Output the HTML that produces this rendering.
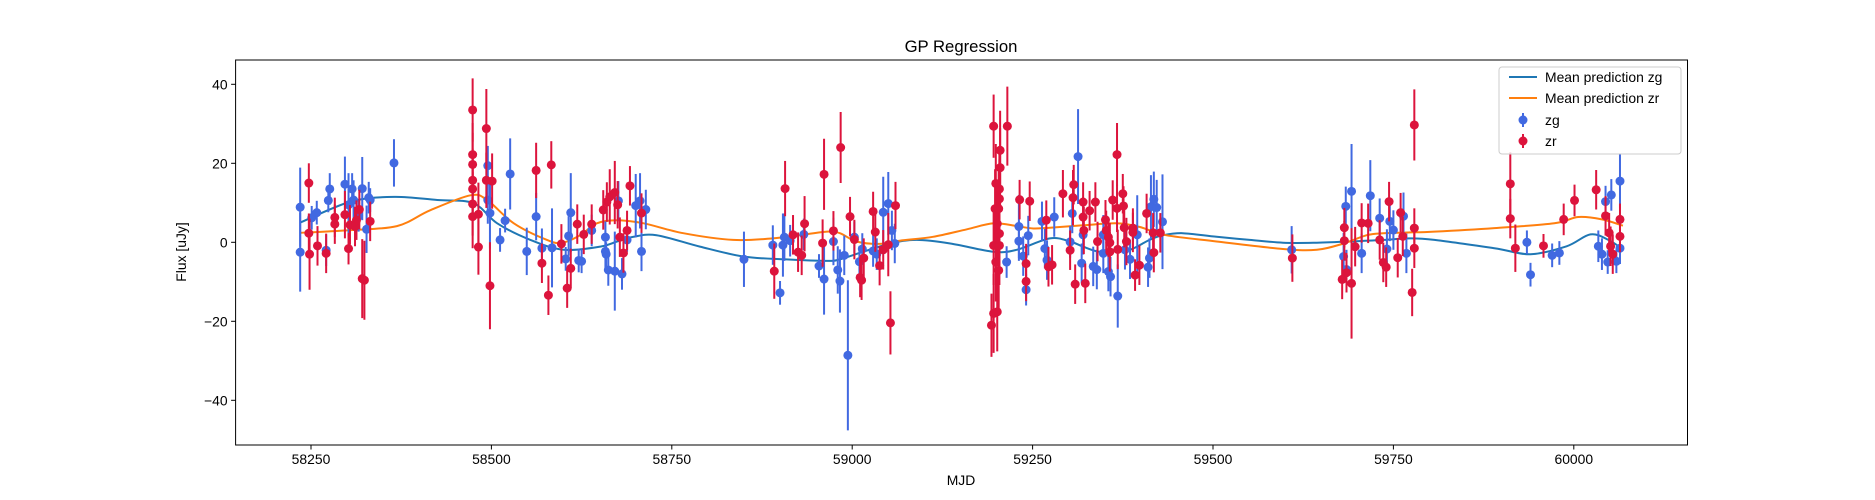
<!DOCTYPE html>
<html><head><meta charset="utf-8"><style>
html,body{margin:0;padding:0;background:#fff;}
svg{display:block;font-family:"Liberation Sans","DejaVu Sans",sans-serif;}
</style></head><body>
<svg id="chart" width="1875" height="500" viewBox="0 0 1875 500" xmlns="http://www.w3.org/2000/svg">
<rect width="1875" height="500" fill="#fff"/>
<text x="961" y="52" font-size="16.7" text-anchor="middle">GP Regression</text>
<g id="curves"></g><g id="pts"></g><g id="axes"></g>
<text x="961" y="485" font-size="13.9" text-anchor="middle">MJD</text>
<text x="0" y="0" font-size="13.9" text-anchor="middle" transform="translate(186,252) rotate(-90)">Flux [uJy]</text>
<g>
<rect x="1499" y="67" width="182" height="87" rx="3" fill="#fff" fill-opacity="0.8" stroke="#ccc"/>
<line x1="1509" y1="77" x2="1537" y2="77" stroke="#1f77b4" stroke-width="2"/>
<text x="1545" y="82" font-size="13.9">Mean prediction zg</text>
<line x1="1509" y1="98" x2="1537" y2="98" stroke="#ff7f0e" stroke-width="2"/>
<text x="1545" y="103" font-size="13.9">Mean prediction zr</text>
<line x1="1523" y1="113" x2="1523" y2="127" stroke="#4169e1" stroke-width="2"/><circle cx="1523" cy="120" r="4.5" fill="#4169e1"/>
<text x="1545" y="125" font-size="13.9">zg</text>
<line x1="1523" y1="134" x2="1523" y2="148" stroke="#dc143c" stroke-width="2"/><circle cx="1523" cy="141" r="4.5" fill="#dc143c"/>
<text x="1545" y="146" font-size="13.9">zr</text>
</g>
</svg>
<script>
const xTicks=[58250,58500,58750,59000,59250,59500,59750,60000];
const yTicks=[-40,-20,0,20,40];
const zgCurveMjd=[58235,58305,58365,58425,58475,58508,58554,58600,58651,58674,58697,58729,58789,58849,58905,58965,58983,59015,59053,59089,59136,59196,59228,59274,59302,59320,59343,59366,59385,59412,59431,59458,59505,59551,59597,59644,59690,59736,59773,59807,59890,59940,59990,60023,60048,60068];
const zgCurveVal=[5.0,10.3,11.5,10.7,9.9,4.8,0.6,-1.9,-1.1,0.2,1.4,1.8,-1.1,-3.6,-4.3,-4.7,-4.3,-2.4,-0.3,0.6,-0.3,-2.4,-1.9,1.0,0.2,-1.1,-2.4,-1.9,-1.9,0.6,1.8,2.3,1.4,0.6,-0.1,-0.1,0.2,0.6,1.0,0.6,-1.5,-3.0,-1.0,2.0,0.6,-1.8];
const zrCurveMjd=[58235,58305,58369,58415,58471,58494,58531,58577,58598,58623,58646,58674,58711,58766,58835,58890,58927,58965,58983,59006,59038,59066,59112,59159,59196,59228,59251,59274,59320,59366,59398,59435,59505,59597,59644,59681,59713,59736,59773,59807,59890,59973,60006,60039,60068];
const zrCurveVal=[2.4,3.1,4.1,8.1,11.9,10.7,4.8,0.6,-0.1,1.8,4.8,5.6,4.8,2.3,0.6,1.0,1.8,2.7,2.3,0.2,-0.4,0.4,1.4,3.3,4.8,4.1,3.5,3.7,4.3,4.8,3.9,1.8,0.2,-1.7,-1.9,-0.3,1.8,2.3,2.5,2.7,3.6,4.8,6.4,5.8,4.2];
const zgMjd=[58235,58235,58251,58258,58271,58274,58276,58297,58302,58307,58309,58321,58316,58327,58330,58332,58365,58495,58495,58498,58512,58519,58526,58549,58562,58570,58584,58603,58607,58610,58621,58625,58639,58658,58658,58659,58662,58671,58676,58681,58688,58700,58706,58708,58714,58850,58890,58900,58904,58906,58914,58933,58954,58961,58974,58980,58983,58989,58994,59003,59010,59014,59029,59034,59043,59050,59055,59059,59214,59231,59231,59237,59241,59244,59263,59267,59270,59280,59302,59305,59313,59318,59320,59334,59339,59348,59348,59355,59358,59368,59378,59385,59395,59410,59412,59414,59418,59422,59430,59609,59681,59684,59685,59692,59706,59718,59731,59741,59745,59750,59764,59768,59935,59940,59970,59980,60034,60039,60044,60052,60059,60064,60064,60047];
const zgFlux=[8.9,-2.5,6.2,7.5,-2,10.6,13.5,14.7,9.5,13.5,10.7,13.6,6.7,3.3,11.3,10.7,20.1,19.4,10.7,7.4,0.6,5.5,17.3,-2.3,6.5,-1.5,-1.4,-4.2,1.6,7.5,-4.6,-4.8,3,1.3,-2.3,-3,-7,-7.3,10.5,-8,0.6,9.3,10.5,-2.3,8.3,-4.3,-0.7,-12.8,-0.7,1.3,0.4,2,-6,-9.3,0.2,-7,-9.8,-3.3,-28.6,1.3,-4.9,-1.7,-2.2,-3,7.6,9.8,3,-0.3,-5,4,0.3,-3.5,-12,1.7,5.3,-1.6,-4.5,6.4,0.1,7.3,21.7,-5.3,1.9,-6.1,-6.9,1.9,-2.8,-7.4,-8.7,-13.6,-1.9,-4.3,1.9,-6.3,-4,9,10.9,8.8,5.2,-1.9,-3.6,9.1,-6.9,12.9,-2.8,11.8,6.1,-1.7,5.3,3.1,6.6,-2.8,0,-8.2,-3.3,-2.7,-1,-3,10.3,12,-4.8,-1.5,15.5,-5];
const zgErr=[10,10,3,3,4,3,4,7,8,4,5,8,4,6,4,3,6,5,6,9,3,3,9,6,6,5,10,3,5,10,3,3,4,4,5,3,4,10,5,4,3,8,7,5,5,7,5,3,8,6,4,4,3,9,6,6,8,5,19,4,4,4,4,4,9,8,5,5,4,8,5,5,4,5,5,5,5,5,4,5,12,5,5,5,5,5,5,5,5,8,5,5,10,5,5,8,7,7,12,6,6,5,5,12,5,9,5,5,5,5,6,5,3,3,3,3,4,4,4,4,3,4,7,3];
const zrMjd=[58247,58247,58248,58259,58271,58283,58283,58297,58302,58304,58311,58313,58317,58321,58324,58332,58474,58474,58474,58474,58474,58474,58474,58482,58482,58493,58493,58501,58498,58562,58570,58583,58579,58597,58605,58610,58619,58628,58639,58655,58660,58664,58671,58675,58678,58683,58688,58692,58708,58892,58907,58918,58925,58930,58934,58959,58961,58974,58984,58997,59003,59011,59013,59016,59029,59032,59038,59043,59050,59053,59060,59196,59215,59205,59205,59199,59204,59204,59198,59203,59201,59204,59196,59204,59199,59203,59196,59201,59193,59232,59246,59241,59241,59269,59272,59277,59292,59302,59306,59307,59309,59320,59320,59321,59323,59329,59337,59340,59351,59352,59355,59357,59357,59361,59367,59367,59368,59375,59376,59377,59380,59389,59389,59392,59398,59408,59417,59418,59427,59610,59679,59682,59682,59685,59692,59697,59706,59715,59731,59736,59740,59744,59756,59760,59763,59776,59779,59779,59779,59912,59912,59919,59958,59986,60001,60031,60044,60049,60051,60054,60064,60064];
const zrFlux=[15,2.3,-3,-0.9,-2.8,6.3,4.6,7,-1.6,4.4,4,5.6,8.3,-9.2,-9.6,5.3,33.5,22.2,19.7,15.7,13.5,9.7,6.5,7.1,-1.2,28.8,15.7,15.5,-11,18.2,-5.3,19.6,-13.4,-0.4,-11.6,-6.6,4.6,2,4.6,8.2,10.2,11.5,12.6,9.5,1.3,-2.7,3,14.3,7.4,-7.3,13.6,1.9,-2.5,-3.3,4.7,-0.2,17.2,2.9,24,6.5,0.7,-8.9,-9.6,-4,7.8,2.6,-5.9,-1.9,-0.6,-20.4,9.3,29.4,29.4,23.3,18.9,14.9,13.5,11,8.5,8.5,4.7,2.2,-0.8,-0.8,-5,-7.1,-18,-17.6,-21,10.8,10.4,-5.4,-9.9,5.6,-6.2,-5.7,12.3,-2,11.3,14.6,-10.6,10.2,6.4,3,-10.4,8,10.2,0.2,5.7,3,1.3,-0.1,-2.4,10.7,22.2,8.6,-1.8,12.3,9.2,3.7,0.2,3.6,2.5,-8.3,-5.8,7.3,2.4,-2.6,2.4,-4,-9.4,3.7,0.4,-7.7,-10.4,-1.1,4.9,4.8,0.6,-5.1,-6.3,10.3,-3.9,7.5,1.5,-12.7,29.7,-1.5,3.6,6,14.8,-1.5,-0.9,5.8,10.6,13.3,6.7,2.4,-1,-3,5.8,1.5];
const zrErr=[5,5,9,5,5,5,5,6,4,5,5,5,5,10,10,5,8,8,8,8,8,8,8,8,7,10,7,7,11,7,5,6,5,5,5,5,5,5,5,5,5,7,8,6,5,5,5,5,5,7,7,5,5,5,7,6,9,5,9,5,5,5,5,5,5,5,5,5,8,8,6,8,10,10,10,10,10,10,10,10,10,10,10,10,10,10,10,10,8,5,5,5,5,5,5,5,6,5,7,5,5,5,5,6,5,5,5,5,5,5,5,5,5,5,8,6,5,5,5,5,6,5,5,4,5,5,5,5,5,6,5,5,5,5,14,5,5,5,5,5,5,5,5,5,5,6,9,5,5,5,8,6,3,4,4,5,5,5,5,5,4,4];

const NS='http://www.w3.org/2000/svg';
const L=235.6,R=1687.5,T=60,B=445;
function sx(m){return 311+(m-58250)*180.4/250;}
function sy(f){return 242.3-f*3.95;}
function mk(tag,attrs,parent){const e=document.createElementNS(NS,tag);for(const k in attrs)e.setAttribute(k,attrs[k]);parent.appendChild(e);return e;}

const curves=document.getElementById('curves');
function curve(ms,vs,color,name){
  const P=ms.map((m,i)=>[sx(m),sy(vs[i])]);
  let d='M'+P[0][0].toFixed(1)+','+P[0][1].toFixed(1);
  for(let i=0;i<P.length-1;i++){
    const p0=P[Math.max(0,i-1)],p1=P[i],p2=P[i+1],p3=P[Math.min(P.length-1,i+2)];
    const c1=[p1[0]+(p2[0]-p0[0])/6,p1[1]+(p2[1]-p0[1])/6];
    const c2=[p2[0]-(p3[0]-p1[0])/6,p2[1]-(p3[1]-p1[1])/6];
    d+='C'+c1[0].toFixed(1)+','+c1[1].toFixed(1)+' '+c2[0].toFixed(1)+','+c2[1].toFixed(1)+' '+p2[0].toFixed(1)+','+p2[1].toFixed(1);
  }
  const p=mk('path',{d:d,fill:'none',stroke:color,'stroke-width':2,'stroke-linejoin':'round'},curves);
  
  
}
curve(zgCurveMjd,zgCurveVal,'#1f77b4','mean-prediction-zg-line');
curve(zrCurveMjd,zrCurveVal,'#ff7f0e','mean-prediction-zr-line');

const pts=document.getElementById('pts');
function series(ms,fs,es,color,name){
  const g=mk('g',{},pts);
  
  
  ms.forEach((m,i)=>{
    const x=sx(m);
    const l=mk('line',{x1:x,x2:x,y1:sy(fs[i]+es[i]),y2:sy(fs[i]-es[i]),stroke:color,'stroke-width':2},g);
    
    
  });
  ms.forEach((m,i)=>{
    const c=mk('circle',{cx:sx(m),cy:sy(fs[i]),r:4.5,fill:color},g);
    
    
  });
}
series(zgMjd,zgFlux,zgErr,'#4169e1','zg-series');
series(zrMjd,zrFlux,zrErr,'#dc143c','zr-series');

const axes=document.getElementById('axes');
const frame=mk('rect',{x:L,y:T,width:R-L,height:B-T,fill:'none',stroke:'#000','stroke-width':1},axes);


xTicks.forEach(t=>{
  const x=sx(t);
  mk('line',{x1:x,x2:x,y1:B,y2:B+4.5,stroke:'#000'},axes);
  const tx=mk('text',{x:x,y:B+19,'font-size':13.9,'text-anchor':'middle'},axes);
  tx.textContent=t;
  
  
});
yTicks.forEach(t=>{
  const y=sy(t);
  mk('line',{x1:L-4.5,x2:L,y1:y,y2:y,stroke:'#000'},axes);
  const tx=mk('text',{x:L-8,y:y+5,'font-size':13.9,'text-anchor':'end'},axes);
  tx.textContent=t<0?'\u2212'+Math.abs(t):t;
  
  
});
</script>
</body></html>
